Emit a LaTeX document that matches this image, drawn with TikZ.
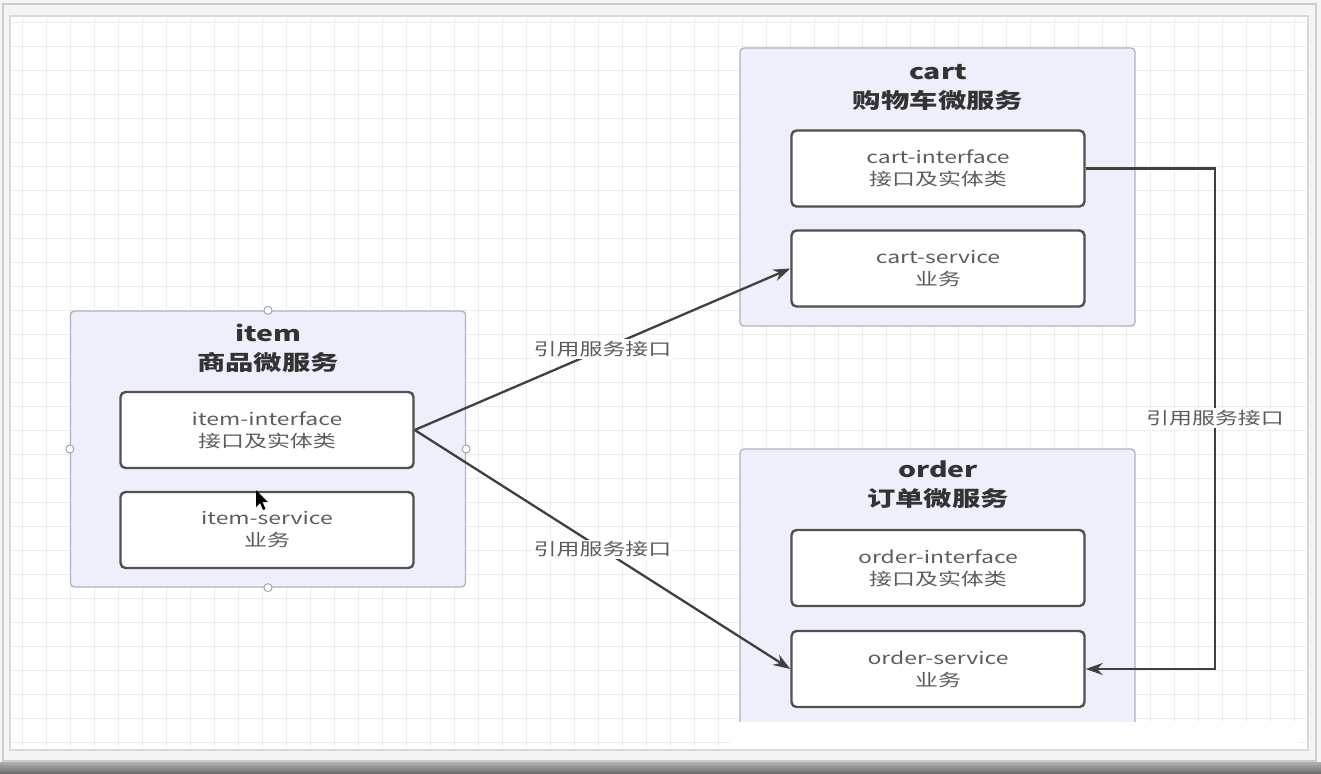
\documentclass[tikz,border=0pt]{standalone}
\usepackage{fontspec}
\setmainfont{Noto Sans CJK SC}[FakeStretch=1.35]
\usetikzlibrary{arrows.meta}
\definecolor{bgout}{HTML}{F4F4F4}
\definecolor{gridc}{HTML}{EDEDED}
\definecolor{contfill}{HTML}{EDEFFB}
\definecolor{contdraw}{HTML}{AEB2C6}
\definecolor{boxdraw}{HTML}{505050}
\definecolor{boxtext}{HTML}{5C5C5C}
\definecolor{titletext}{HTML}{333333}
\definecolor{linec}{HTML}{404040}
\begin{document}
\begin{tikzpicture}[x=1pt,y=-1pt,
  container/.style={draw=contdraw,fill=contfill,line width=1.3,rounded corners=4,minimum width=395,inner sep=0},
  titletxt/.style={font=\bfseries\fontsize{21}{29}\selectfont,text=titletext,align=center},
  ibox/.style={draw=boxdraw,line width=2.4,fill=white,rounded corners=5,minimum width=293,minimum height=76,inner sep=0,
    font=\fontsize{17}{22}\selectfont,text=boxtext,align=center},
  conn/.style={draw=linec,line width=2.3,-{Stealth[length=17pt,width=12pt]}},
  lbl/.style={fill=white,inner sep=2,font=\fontsize{17}{18}\selectfont,text=boxtext},
  handle/.style={circle,draw=gray!70,fill=white,line width=1,minimum size=8,inner sep=0},
  gridline/.style={draw=gridc,line width=0.7}]
\useasboundingbox (0,0) rectangle (1321,773);
% screenshot frame
\fill[bgout] (0,0) rectangle (1321,773);
\shade[top color=gray!60,bottom color=gray!85!black] (0,762) rectangle (1321,773);
\draw[gray!40,line width=1.5] (3,4) rectangle (1316,761);
\fill[white] (10,16) rectangle (1308,750);
\draw[gray!30,line width=1.2] (10,16) rectangle (1308,750);
\foreach \x in {22,46,...,1300} \draw[gridline] (\x,18) -- (\x,748);
\foreach \y in {22,46,...,746} \draw[gridline] (12,\y) -- (1306,\y);
% containers
\node[container,minimum height=276] (itemc) at (268,449) {};
\node[container,minimum height=278] (cartc) at (937.5,187) {};
\node[container,minimum height=292] (orderc) at (937.5,595) {};
% handles on item container
\node[handle] (h1) at (itemc.north) {};
\node[handle] (h2) at (itemc.west) {};
\node[handle] (h3) at (itemc.east) {};
\node[handle] (h4) at (itemc.south) {};
% titles
\node[titletxt] (itemt) at (268,348) {item\\商品微服务};
\node[titletxt] (cartt) at (938,87) {cart\\购物车微服务};
\node[titletxt] (ordert) at (938,485) {order\\订单微服务};
% inner boxes
\node[ibox] (ii) at (267,430) {item-interface\\接口及实体类};
\node[ibox] (is) at (267,530) {item-service\\业务};
\node[ibox] (ci) at (938,168.5) {cart-interface\\接口及实体类};
\node[ibox] (cs) at (938,268.5) {cart-service\\业务};
\node[ibox] (oi) at (938,568) {order-interface\\接口及实体类};
\node[ibox] (os) at (938,669) {order-service\\业务};
% cursor
\fill[black] (256,490) -- ++(0,17) -- ++(4,-4) -- ++(3,7) -- ++(2.5,-1) -- ++(-3,-7) -- ++(5.5,0) -- cycle;
% connectors
\draw[conn] (ii.east) -- node[lbl,pos=0.5] (l1) {引用服务接口} (cs.west);
\draw[conn] (ii.east) -- node[lbl,pos=0.5] (l2) {引用服务接口} (os.west);
\coordinate (turn) at (1215,0);
\draw[conn] (ci.east) -- (ci.east -| turn) -- (os.east -| turn) -- (os.east);
\node[lbl] (l3) at (1215,418) {引用服务接口};
% white patch covering the lower part
\fill[white] (730,722) rectangle (1300,748);
\end{tikzpicture}
\end{document}
